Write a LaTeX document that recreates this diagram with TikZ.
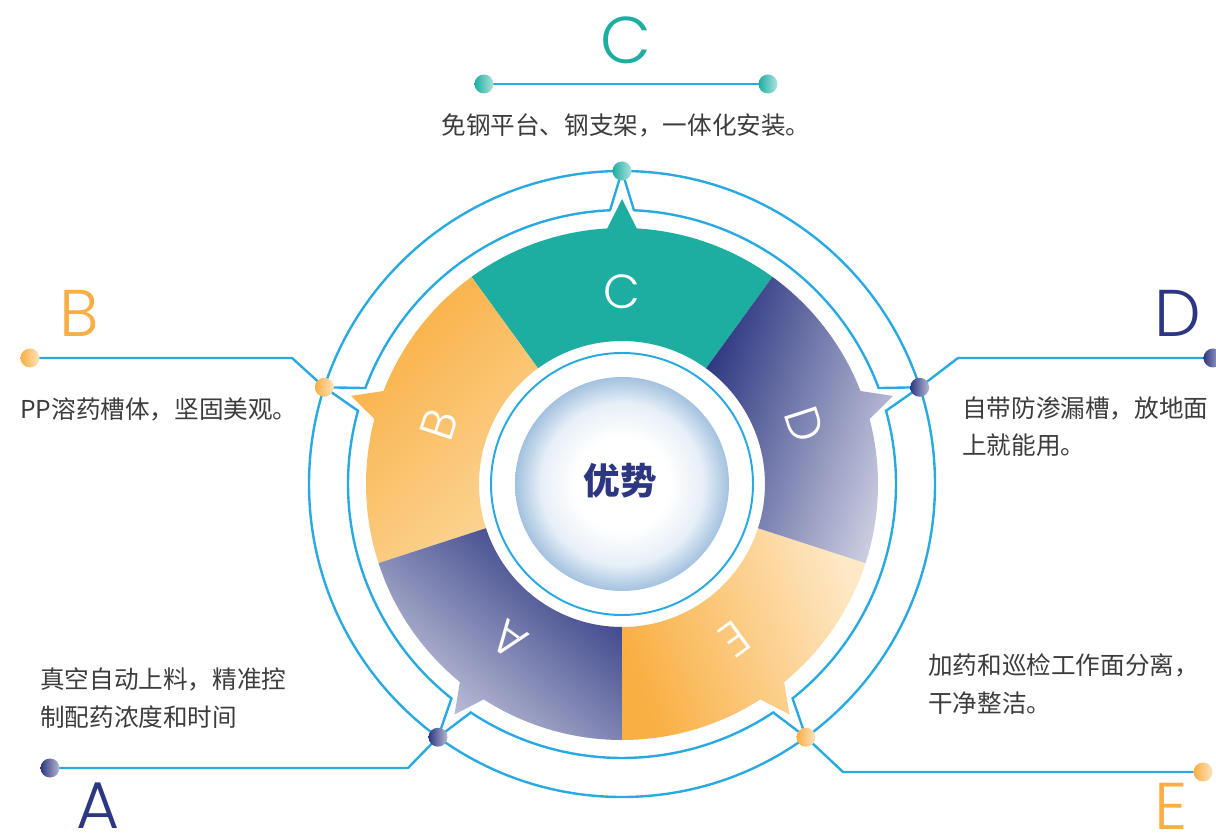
\documentclass[tikz,border=0pt]{standalone}
\usepackage{fontspec}
\setmainfont{Noto Sans CJK SC}
\IfFontExistsTF{Poppins Light}{\newfontfamily\letterfont{Poppins Light}}{\newfontfamily\letterfont{Poppins}}

\definecolor{wireblue}{HTML}{29A9E1}
\definecolor{tealc}{HTML}{1DAEA1}
\definecolor{navy}{HTML}{2D3781}
\definecolor{orangeb}{HTML}{F9AF42}
\definecolor{paleorange}{HTML}{FCD596}
\definecolor{cream}{HTML}{FEE8C6}
\definecolor{lavend}{HTML}{C9CBDF}
\definecolor{textgray}{HTML}{3C3C3C}
\definecolor{hubblue}{HTML}{A3C1DF}
\definecolor{hubmid}{HTML}{E6EFF7}
\pgfdeclareradialshading{hub}{\pgfpoint{0bp}{0bp}}{color(0bp)=(white); color(11bp)=(white); color(19bp)=(hubmid); color(25bp)=(hubblue); color(50bp)=(hubblue)}

\begin{document}
\begin{tikzpicture}[x=0.025cm, y=0.025cm,
    wire/.style={draw=wireblue, line width=1.7pt},
    body/.style={font=\fontsize{17.5}{26.5}\selectfont, text=textgray, inner sep=0pt, align=left},
    bigletter/.style={font=\letterfont\fontsize{47}{47}\selectfont, inner sep=0pt},
    segletter/.style={font=\letterfont\fontsize{34}{34}\selectfont, text=white, inner sep=0pt},
    segC/.style={fill=tealc},
    segB/.style={top color=orangeb, bottom color=paleorange, shading angle=45},
    segA/.style={top color=navy, bottom color=lavend, shading angle=-40},
    segE/.style={top color=orangeb, bottom color=cream, shading angle=110},
    segD/.style={top color=navy, bottom color=lavend, shading angle=70}]
    \useasboundingbox (0,0) rectangle (1216,836);

    \begin{scope}[shift={(622,352)}]
        % segments with their pointers
        \foreach \a/\sty/\lbl in {90/segC/C, 162/segB/B, 234/segA/A, 306/segE/E, 18/segD/D} {
            \path[\sty] (\a-36:143) -- (\a-36:256)
                arc[start angle=\a-36, end angle=\a-3.3, radius=256] -- (\a:285) -- (\a+3.3:256)
                arc[start angle=\a+3.3, end angle=\a+36, radius=256] -- (\a+36:143)
                arc[start angle=\a+36, end angle=\a-36, radius=143] -- cycle;
            \node[segletter, rotate=\a-90] (seg\lbl) at (\a:192) {\lbl};
        }
        \draw[wire, line width=1.4pt] (0,0) circle (131);
        \shade[shading=hub] (0,0) circle (107);
        \node[font=\bfseries\fontsize{26}{26}\selectfont, text=navy, inner sep=0pt] (hubText) at (-2,3) {优势};

        \draw[wire] (0,0) circle (313);
        \draw[wire, line join=miter] (92.5:274) \foreach \a in {162,234,306,378,450} {
            arc[start angle=\a-69.5, end angle=\a-2.5, radius=274] -- (\a:313) -- (\a+2.5:274) } -- cycle;

        \coordinate (rimC) at (90:313);
        \coordinate (rimB) at (162:313);
        \coordinate (rimA) at (234:313);
        \coordinate (rimE) at (306:313);
        \coordinate (rimD) at (18:313);
    \end{scope}

    \coordinate (cLeft) at (484,752);
    \coordinate (cRight) at (768,752);
    \coordinate (bEnd) at (30,478);
    \coordinate (bKnee) at (292,478);
    \coordinate (dEnd) at (1213,478);
    \coordinate (dKnee) at (958,478);
    \coordinate (aEnd) at (50,68);
    \coordinate (aKnee) at (408,68);
    \coordinate (eEnd) at (1203,64);
    \coordinate (eKnee) at (843,64);

    \draw[wire] (cLeft) -- (cRight);
    \draw[wire] (bEnd) -- (bKnee) -- (rimB);
    \draw[wire] (dEnd) -- (dKnee) -- (rimD);
    \draw[wire] (aEnd) -- (aKnee) -- (rimA);
    \draw[wire] (eEnd) -- (eKnee) -- (rimE);

    \foreach \p/\c in {cLeft/tealc, cRight/tealc, rimC/tealc, bEnd/orangeb, rimB/orangeb,
        dEnd/navy, rimD/navy, aEnd/navy, rimA/navy, eEnd/orangeb, rimE/orangeb}
        \shade[left color=\c, right color=\c!35] (\p) circle (9.5);

    \node[bigletter, text=tealc] (cLetter) at (626,796) {C};
    \node[bigletter, text=orangeb] (bLetter) at (79,523) {B};
    \node[bigletter, text=navy] (dLetter) at (1178,523) {D};
    \node[bigletter, text=navy] (aLetter) at (98,30) {A};
    \node[bigletter, text=orangeb] (eLetter) at (1171,30) {E};

    \node[body] (cText) at (626,711) {免钢平台、钢支架，一体化安装。};
    \node[body, anchor=west] (bText) at (20,427) {PP溶药槽体，坚固美观。};
    \node[body, anchor=west] (dText) at (962,409.5) {自带防渗漏槽，放地面\\上就能用。};
    \node[body, anchor=west] (aText) at (40,138) {真空自动上料，精准控\\制配药浓度和时间};
    \node[body, anchor=west] (eText) at (928,152) {加药和巡检工作面分离，\\干净整洁。};
\end{tikzpicture}
\end{document}
